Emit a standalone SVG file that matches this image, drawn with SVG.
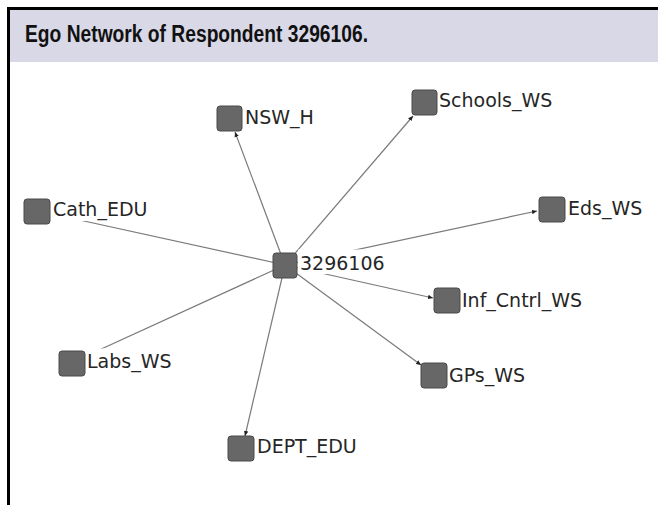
<svg xmlns="http://www.w3.org/2000/svg" width="658" height="505" viewBox="0 0 658 505">
<style>
.node rect.n{fill:#676767;stroke:#4a4a4a;stroke-width:1}
.lbl{font-family:"DejaVu Sans",Verdana,sans-serif;font-size:19px;fill:#262626}
.bg{fill:#fff}
.edge{stroke:#7a7a7a;stroke-width:1.2;fill:none}
.title{font-family:"Liberation Sans",Arial,sans-serif;font-weight:bold;font-size:23px;fill:#111}
</style>
<defs>
<marker id="arr" markerUnits="userSpaceOnUse" markerWidth="6" markerHeight="5" refX="5" refY="2.5" orient="auto">
<path d="M0,0.3 L5,2.5 L0,4.7 Z" fill="#222"/>
</marker>
</defs>
<rect x="0" y="0" width="658" height="505" fill="#fff"/>
<rect x="8" y="10" width="650" height="52" fill="#d9d8e7"/>
<line x1="8" y1="8.5" x2="658" y2="8.5" stroke="#000" stroke-width="3"/>
<line x1="8.5" y1="7" x2="8.5" y2="505" stroke="#000" stroke-width="3"/>
<text class="title" x="25" y="42" textLength="343" lengthAdjust="spacingAndGlyphs">Ego Network of Respondent 3296106.</text>

<g id="connectors">
<line class="edge" x1="285" y1="265" x2="235" y2="132" marker-end="url(#arr)"/>
<line class="edge" x1="285" y1="265" x2="413" y2="116" marker-end="url(#arr)"/>
<line class="edge" x1="285" y1="265" x2="537" y2="211" marker-end="url(#arr)"/>
<line class="edge" x1="285" y1="265" x2="433" y2="298" marker-end="url(#arr)"/>
<line class="edge" x1="285" y1="265" x2="421" y2="365" marker-end="url(#arr)"/>
<line class="edge" x1="285" y1="265" x2="245" y2="436" marker-end="url(#arr)"/>
<line class="edge" x1="285" y1="265" x2="52" y2="214"/>
<line class="edge" x1="285" y1="265" x2="86" y2="356"/>
</g>

<g id="ego" class="node">
<rect class="bg" x="298" y="249.5" width="88" height="24.5"/>
<rect class="n" x="273" y="253" width="24" height="25" rx="3"/>
<text class="lbl" x="300" y="270">3296106</text>
</g>
<g id="nsw_h" class="node">
<rect class="n" x="217" y="106" width="25" height="25" rx="3"/>
<text class="lbl" x="245" y="124">NSW_H</text>
</g>
<g id="schools_ws" class="node">
<rect class="n" x="412" y="90" width="25" height="25" rx="3"/>
<text class="lbl" x="439" y="107">Schools_WS</text>
</g>
<g id="cath_edu" class="node">
<rect class="bg" x="51" y="196" width="100" height="25"/>
<rect class="n" x="24" y="199" width="26" height="25" rx="3"/>
<text class="lbl" x="53" y="216">Cath_EDU</text>
</g>
<g id="eds_ws" class="node">
<rect class="n" x="539" y="197" width="26" height="25" rx="3"/>
<text class="lbl" x="568" y="215">Eds_WS</text>
</g>
<g id="inf_cntrl_ws" class="node">
<rect class="n" x="434" y="288" width="26" height="25" rx="3"/>
<text class="lbl" x="462" y="307">Inf_Cntrl_WS</text>
</g>
<g id="labs_ws" class="node">
<rect class="bg" x="84" y="348.5" width="92" height="26"/>
<rect class="n" x="59" y="351" width="26" height="25" rx="3"/>
<text class="lbl" x="87" y="368">Labs_WS</text>
</g>
<g id="gps_ws" class="node">
<rect class="n" x="421" y="363" width="26" height="25" rx="3"/>
<text class="lbl" x="449" y="382">GPs_WS</text>
</g>
<g id="dept_edu" class="node">
<rect class="n" x="228" y="436" width="26" height="25" rx="3"/>
<text class="lbl" x="257" y="453">DEPT_EDU</text>
</g>
</svg>
